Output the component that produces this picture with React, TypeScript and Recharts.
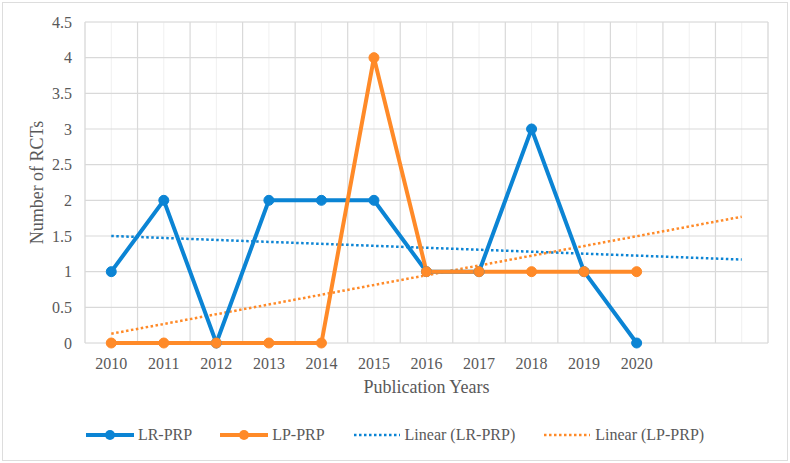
import { LineChart, Line, XAxis, YAxis, CartesianGrid, Legend } from 'recharts'

const years = ['2010', '2011', '2012', '2013', '2014', '2015', '2016', '2017', '2018', '2019', '2020', '2021', '2022']
const labeledYears = ['2010', '2011', '2012', '2013', '2014', '2015', '2016', '2017', '2018', '2019', '2020']
const lrPrp = [1, 2, 0, 2, 2, 2, 1, 1, 3, 1, 0, null, null]
const lpPrp = [0, 0, 0, 0, 0, 4, 1, 1, 1, 1, 1, null, null]
// trendline end points
const lrTrend = [1.5, null, null, null, null, null, null, null, null, null, null, null, 1.17]
const lpTrend = [0.13, null, null, null, null, null, null, null, null, null, null, null, 1.77]
const yTicks = [0, 0.5, 1, 1.5, 2, 2.5, 3, 3.5, 4, 4.5]
const minorYTicks = Array.from({ length: 46 }, (_, i) => i / 10)
const boundaryTicks = [0, 1, 2, 3, 4, 5, 6, 7, 8, 9, 10, 11, 12, 13]

const BLUE = '#0B84D4'
const ORANGE = '#FF8A28'
const TEXT = '#595959'
const FONT = 'Liberation Serif'
const textStyle = { fontFamily: FONT }

const data = years.map((year, i) => ({
  year,
  idx: i,
  lr: lrPrp[i],
  lp: lpPrp[i],
  lrT: lrTrend[i],
  lpT: lpTrend[i],
}))

const legendItems = [
  { label: 'LR-PRP', color: BLUE, dotted: false },
  { label: 'LP-PRP', color: ORANGE, dotted: false },
  { label: 'Linear (LR-PRP)', color: BLUE, dotted: true },
  { label: 'Linear (LP-PRP)', color: ORANGE, dotted: true },
]

function ChartLegend() {
  return (
    <div style={{ display: 'flex', justifyContent: 'center', alignItems: 'center', height: 20, gap: 28 }}>
      {legendItems.map((item) => (
        <div key={item.label} style={{ display: 'flex', alignItems: 'center' }}>
          <svg width={48} height={14} style={{ marginRight: 4 }}>
            {item.dotted ? (
              <line x1={1} y1={7} x2={47} y2={7} stroke={item.color} strokeWidth={2.5} strokeDasharray="2.5 2.5" />
            ) : (
              <>
                <line x1={0} y1={7} x2={48} y2={7} stroke={item.color} strokeWidth={4} />
                <circle cx={24} cy={7} r={5} fill={item.color} />
              </>
            )}
          </svg>
          <span style={{ fontFamily: FONT, fontSize: 16, color: TEXT }}>{item.label}</span>
        </div>
      ))}
    </div>
  )
}

function XTick(props: any) {
  const { x, y, payload } = props
  const label = labeledYears.includes(payload.value) ? payload.value : ''
  return (
    <text x={x} y={y} dy={12} textAnchor="middle" fill={TEXT} fontSize={16} style={textStyle}>
      {label}
    </text>
  )
}

function YTick(props: any) {
  const { x, y, payload } = props
  return (
    <text x={x} y={y} dy={5.5} textAnchor="end" fill={TEXT} fontSize={16} style={textStyle}>
      {payload.value}
    </text>
  )
}

function YTitle(props: any) {
  const { viewBox } = props
  const cx = viewBox.x + 37
  const cy = viewBox.y + viewBox.height / 2
  return (
    <text x={cx} y={cy} transform={`rotate(-90, ${cx}, ${cy})`} textAnchor="middle" dominantBaseline="central" fill={TEXT} fontSize={18} style={textStyle}>
      Number of RCTs
    </text>
  )
}

function XTitle(props: any) {
  const { viewBox } = props
  return (
    <text x={viewBox.x + viewBox.width / 2} y={viewBox.y + 50} textAnchor="middle" fill={TEXT} fontSize={18} style={textStyle}>
      Publication Years
    </text>
  )
}

export default function App() {
  return (
    <div style={{ position: 'absolute', left: 0, top: 0, width: 790, height: 463, background: '#fff' }}>
      <div style={{ position: 'absolute', left: 2, top: 2, width: 784, height: 457, border: '1px solid #DDDDDD' }} />
      <LineChart width={790} height={463} data={data} margin={{ top: 22, right: 22, bottom: 40, left: 0 }}>
        <XAxis xAxisId="main" dataKey="year" scale="band" interval={0} axisLine={false} tickLine={false} tickMargin={8} height={60}
          tick={<XTick />} label={<XTitle />} />
        <XAxis xAxisId="grid" dataKey="idx" type="number" domain={[0, 13]} ticks={boundaryTicks} hide height={0} allowDataOverflow />
        <YAxis yAxisId="main" domain={[0, 4.5]} ticks={yTicks} width={85} axisLine={false} tickLine={false} tickMargin={7}
          tick={<YTick />} label={<YTitle />} />
        <YAxis yAxisId="minor" domain={[0, 4.5]} ticks={minorYTicks} hide width={0} />
        <CartesianGrid xAxisId="main" yAxisId="minor" stroke="#F0F0F0" strokeWidth={1} />
        <CartesianGrid xAxisId="grid" yAxisId="main" stroke="#D9D9D9" strokeWidth={1.2} />
        <Legend verticalAlign="bottom" content={<ChartLegend />} wrapperStyle={{ bottom: 18, left: 0, width: 790 }} />
        <Line xAxisId="main" yAxisId="main" dataKey="lrT" stroke={BLUE} strokeWidth={2.5} strokeDasharray="2.5 2.5" dot={false} connectNulls isAnimationActive={false} />
        <Line xAxisId="main" yAxisId="main" dataKey="lpT" stroke={ORANGE} strokeWidth={2.5} strokeDasharray="2.5 2.5" dot={false} connectNulls isAnimationActive={false} />
        <Line xAxisId="main" yAxisId="main" dataKey="lr" stroke={BLUE} strokeWidth={4} dot={{ r: 5, fill: BLUE, stroke: BLUE, strokeWidth: 1 }} isAnimationActive={false} />
        <Line xAxisId="main" yAxisId="main" dataKey="lp" stroke={ORANGE} strokeWidth={4} dot={{ r: 5, fill: ORANGE, stroke: ORANGE, strokeWidth: 1 }} isAnimationActive={false} />
      </LineChart>
    </div>
  )
}
